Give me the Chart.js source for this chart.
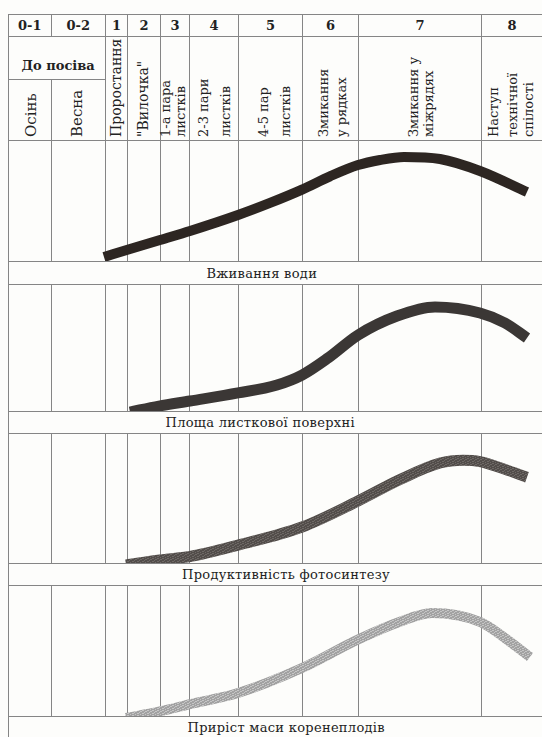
<!DOCTYPE html>
<html>
<head>
<meta charset="utf-8">
<script src="https://cdn.jsdelivr.net/npm/chart.js@4.4.0/dist/chart.umd.min.js"></script>
<style>
    body { margin: 0; width: 542px; height: 737px; overflow: hidden; position: relative;
           background: #fdfdfb; font-family: 'DejaVu Serif', 'Liberation Serif', serif; color: #222; }
    .ln { position: absolute; background: #858585; z-index: 1; }
    .t { position: absolute; white-space: nowrap; line-height: 1; z-index: 3; }
    canvas { position: absolute; z-index: 2; }
</style>
</head>
<body>
<script>
// stage numbers and names (header)
const stageNumbers = ['0-1', '0-2', '1', '2', '3', '4', '5', '6', '7', '8'];
const stageNames = [
    ['Осінь'], ['Весна'], ['Проростання'], ['"Вилочка"'],
    ['1-а пара', 'листків'], ['2-3 пари', 'листків'], ['4-5 пар', 'листків'],
    ['Змикання', 'у рядках'], ['Змикання у', 'міжрядях'], ['Наступ', 'технічної', 'спілості']
];
const preSowing = 'До посіва';
// stage borders on the season axis
const stageEdges = [0, 43, 97, 119, 152, 181, 230, 294, 350, 473, 534];

// the four processes
const panelTitles = ['Вживання води', 'Площа листкової поверхні', 'Продуктивність фотосинтезу', 'Приріст маси коренеплодів'];
const waterX = [96, 122, 152, 182, 230, 262, 294, 322, 350, 372, 396, 432, 472, 519];
const waterY = [3.3, 9.9, 17.4, 24.8, 38, 48, 59, 70, 79.3, 83.5, 86, 84.3, 74.4, 57];
const leafX = [122, 151, 182, 230, 269, 294, 320, 350, 389, 427, 472, 497, 519];
const leafY = [-0.8, 3.9, 7.9, 14.2, 20.5, 28.3, 41.7, 59.8, 74.8, 81.9, 77.2, 69.3, 57.5];
const photoX = [118, 152, 182, 230, 294, 350, 392, 432, 455, 472, 497, 519];
const photoY = [-1.5, 2.3, 5, 13.8, 27.7, 47.7, 64.2, 76.9, 79, 78, 72, 66];
const rootX = [118, 152, 182, 230, 294, 350, 392, 424, 472, 497, 522];
const rootY = [-1.5, 3.5, 9, 17.5, 36.6, 58.4, 72, 78.6, 71.8, 59.5, 45];

// page layout
const L = 8, TOP = 14, ROW1 = 36, ROW2 = 79, HEAD = 140;
const panels = [
    { top: 140, bottom: 261, next: 284, cx: 262 },
    { top: 284, bottom: 411, next: 433, cx: 260 },
    { top: 433, bottom: 563, next: 585, cx: 286 },
    { top: 585, bottom: 716, next: 737, cx: 286 }
];
const nameCx = [[31], [77], [116], [143], [165, 180], [203, 225], [263, 285], [323, 341], [413, 428], [493, 512, 528]];
const nameSize = [15, 15, 14, 14, 13, 13, 13, 13, 13, 13];

function line(x, y, w, h) {
    const d = document.createElement('div');
    d.className = 'ln';
    Object.assign(d.style, { left: x + 'px', top: y + 'px', width: w + 'px', height: h + 'px' });
    document.body.appendChild(d);
}
function text(str, css) {
    const s = document.createElement('span');
    s.className = 't';
    s.textContent = str;
    Object.assign(s.style, css);
    document.body.appendChild(s);
    return s;
}

// table frame
line(L, TOP, 542 - L, 1);
line(L, ROW1, 542 - L, 1);
line(L, ROW2, stageEdges[2] + 1, 1);
line(L, TOP, 1, 737 - TOP);
stageEdges.slice(1, -1).forEach((e, i) => {
    if (i === 0) { line(L + e, TOP, 1, ROW1 - TOP); line(L + e, ROW2, 1, HEAD - ROW2); }
    else line(L + e, TOP, 1, HEAD - TOP);
});
panels.forEach(p => { line(L, p.top, 542 - L, 1); line(L, p.bottom, 542 - L, 1); });

// header texts
stageNumbers.forEach((n, i) => {
    const cx = L + (stageEdges[i] + stageEdges[i + 1]) / 2 + 0.5;
    const s = text(n, { fontWeight: 'bold', fontSize: '13px', top: '19px' });
    s.style.left = (cx - s.offsetWidth / 2) + 'px';
});
const ps = text(preSowing, { fontWeight: 'bold', fontSize: '13px', top: '59px' });
ps.style.left = (58 - ps.offsetWidth / 2) + 'px';
stageNames.forEach((lines, i) => {
    lines.forEach((str, j) => {
        text(str, {
            fontSize: nameSize[i] + 'px', left: nameCx[i][j] + 'px', top: '137px',
            transformOrigin: '0 0', transform: 'rotate(-90deg) translateY(-50%)'
        });
    });
});

// panel titles
panels.forEach((p, i) => {
    const s = text(panelTitles[i], { fontSize: '13px', letterSpacing: '0.3px' });
    s.style.left = (p.cx - s.offsetWidth / 2) + 'px';
    s.style.top = ((p.bottom + p.next) / 2 - s.offsetHeight / 2 + 0.5) + 'px';
});

// speckled stroke for the lighter bands
function grain(a, b) {
    const c = document.createElement('canvas');
    c.width = 5; c.height = 5;
    const g = c.getContext('2d');
    g.fillStyle = a; g.fillRect(0, 0, 5, 5);
    g.fillStyle = b;
    [[0, 0], [3, 1], [1, 2], [4, 3], [2, 4], [2, 1], [4, 0], [0, 3]].forEach(([x, y]) => g.fillRect(x, y, 1, 1));
    return g.createPattern(c, 'repeat');
}

const series = [
    { xs: waterX, ys: waterY, color: '#2d2622', width: 10 },
    { xs: leafX, ys: leafY, color: '#3b3735', width: 11 },
    { xs: photoX, ys: photoY, color: grain('#524d4a', '#6e6966'), width: 11 },
    { xs: rootX, ys: rootY, color: grain('#a2a2a2', '#c6c6c6'), width: 10 }
];

panels.forEach((p, i) => {
    const cv = document.createElement('canvas');
    cv.width = 534; cv.height = p.bottom - p.top;
    cv.style.left = L + 'px'; cv.style.top = p.top + 'px';
    document.body.appendChild(cv);
    const s = series[i];
    new Chart(cv.getContext('2d'), {
        type: 'line',
        data: {
            datasets: [{
                data: s.xs.map((x, k) => ({ x: x, y: s.ys[k] })),
                borderColor: s.color,
                borderWidth: s.width,
                borderCapStyle: 'butt',
                pointRadius: 0,
                cubicInterpolationMode: 'monotone',
                clip: 0
            }]
        },
        options: {
            responsive: false,
            animation: false,
            events: [],
            layout: { padding: 0 },
            plugins: { legend: { display: false }, tooltip: { enabled: false } },
            scales: {
                x: {
                    type: 'linear', min: 0, max: 534,
                    ticks: { display: false },
                    grid: { drawTicks: false, color: '#858585', lineWidth: 1 },
                    border: { display: false },
                    afterBuildTicks: scale => {
                        scale.ticks = stageEdges.slice(1, -1).map(v => ({ value: v }));
                    }
                },
                y: { display: false, min: 0, max: 100 }
            }
        }
    });
});
</script>
</body>
</html>
